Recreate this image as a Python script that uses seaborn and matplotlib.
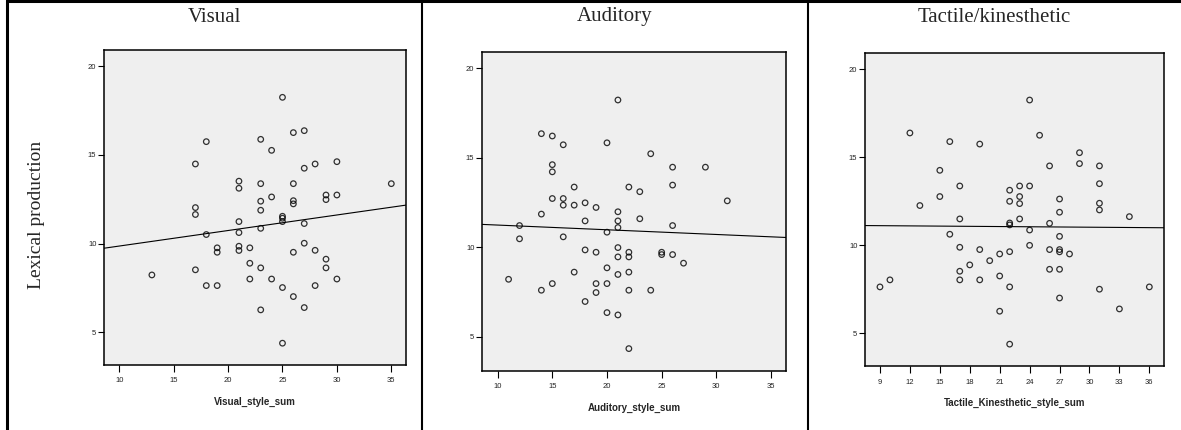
import matplotlib
matplotlib.use("Agg")
import matplotlib.pyplot as plt
from matplotlib.lines import Line2D
import seaborn as sns
import numpy as np
import pandas as pd

# ---------------- data ----------------
visual_x = [13,
            17, 17, 17, 17,
            18, 18, 18,
            19, 19, 19,
            21, 21, 21, 21, 21, 21,
            22, 22, 22,
            23, 23, 23, 23, 23, 23, 23,
            24, 24, 24,
            25, 25, 25, 25, 25, 25,
            26, 26, 26, 26, 26, 26,
            27, 27, 27, 27, 27,
            28, 28, 28,
            29, 29, 29, 29,
            30, 30, 30,
            35]
visual_y = [8.23,
            14.49, 12.03, 11.64, 8.52,
            15.75, 10.51, 7.63,
            9.76, 9.51, 7.63,
            13.52, 13.12, 11.24, 10.62, 9.85, 9.61,
            9.76, 8.89, 8.00,
            15.88, 13.38, 12.39, 11.88, 10.86, 8.63, 6.26,
            15.26, 12.63, 8.00,
            18.25, 11.54, 11.43, 11.24, 7.52, 4.38,
            16.26, 13.38, 12.42, 12.24, 9.51, 7.01,
            16.37, 14.25, 11.13, 10.02, 6.39,
            14.49, 9.62, 7.63,
            12.74, 12.48, 9.12, 8.63,
            14.62, 12.74, 8.00,
            13.38]

auditory_x = [11,
              12, 12,
              14, 14, 14,
              15, 15, 15, 15, 15,
              16, 16, 16, 16,
              17, 17, 17,
              18, 18, 18, 18,
              19, 19, 19, 19,
              20, 20, 20, 20, 20,
              21, 21, 21, 21, 21, 21, 21, 21,
              22, 22, 22, 22, 22, 22,
              23, 23,
              24, 24,
              25, 25,
              26, 26, 26, 26,
              27,
              29,
              31]
auditory_y = [8.22,
              11.22, 10.48,
              16.35, 11.86, 7.61,
              16.22, 14.62, 14.22, 12.73, 7.98,
              15.73, 12.73, 12.36, 10.59,
              13.37, 12.36, 8.62,
              12.49, 11.48, 9.86, 6.98,
              12.23, 9.73, 7.98, 7.48,
              15.84, 10.85, 8.86, 7.98, 6.36,
              18.23, 11.99, 11.48, 11.11, 9.99, 9.47, 8.49, 6.23,
              13.37, 9.73, 9.47, 8.62, 7.61, 4.35,
              13.11, 11.60,
              15.23, 7.61,
              9.73, 9.60,
              14.48, 13.48, 11.22, 9.60,
              9.12,
              14.48,
              12.60]

tactile_x = [9, 10, 12, 13,
             15, 15,
             16, 16,
             17, 17, 17, 17, 17,
             18,
             19, 19, 19,
             20,
             21, 21, 21,
             22, 22, 22, 22, 22, 22, 22,
             23, 23, 23, 23,
             24, 24, 24, 24,
             25,
             26, 26, 26, 26,
             27, 27, 27, 27, 27, 27, 27,
             28,
             29, 29,
             31, 31, 31, 31, 31,
             33, 34, 36]
tactile_y = [7.63, 8.03, 16.37, 12.25,
             14.25, 12.76,
             15.88, 10.62,
             13.36, 11.49, 9.88, 8.52, 8.03,
             8.88,
             15.74, 9.75, 8.03,
             9.12,
             9.50, 8.25, 6.25,
             13.12, 12.49, 11.26, 11.15, 9.63, 7.63, 4.38,
             13.36, 12.76, 12.36, 11.49,
             18.24, 13.36, 10.86, 9.99,
             16.24,
             14.50, 11.24, 9.75, 8.63,
             12.62, 11.87, 10.50, 9.75, 9.62, 8.63, 7.00,
             9.50,
             15.25, 14.63,
             14.50, 13.49, 12.38, 12.00, 7.50,
             6.38, 11.62, 7.63]

titles = ["Visual", "Auditory", "Tactile/kinesthetic"]
xlabels = ["Visual_style_sum", "Auditory_style_sum", "Tactile_Kinesthetic_style_sum"]
ylabel = "Lexical production"
yticks = [5, 10, 15, 20]
xticks_list = [[10, 15, 20, 25, 30, 35],
               [10, 15, 20, 25, 30, 35],
               [9, 12, 15, 18, 21, 24, 27, 30, 33, 36]]

# ---------------- figure ----------------
sns.set_style("white")
plt.rcParams["font.family"] = ["Liberation Sans", "DejaVu Sans"]

W, H = 1181, 430
fig = plt.figure(figsize=(W / 100, H / 100), dpi=100)

# axes boxes in pixels: left, right, top, bottom
boxes = [(104, 406, 50, 365), (482, 786, 52, 371), (865, 1164, 53, 366)]
xlims = [(8.6, 36.35), (8.57, 36.37), (7.5, 37.47)]
ylims = [(3.15, 20.92), (3.1, 20.91), (3.14, 20.91)]
datasets = [(visual_x, visual_y), (auditory_x, auditory_y), (tactile_x, tactile_y)]

for i, ((l, r, t, b), (xs, ys)) in enumerate(zip(boxes, datasets)):
    ax = fig.add_axes([l / W, 1 - b / H, (r - l) / W, (b - t) / H])
    ax.set_facecolor("#EFEFEF")
    df = pd.DataFrame({"x": xs, "y": ys})
    ax.set_xlim(*xlims[i])
    ax.set_ylim(*ylims[i])
    sns.regplot(data=df, x="x", y="y", ax=ax, ci=None, truncate=False,
                color="black", marker="o",
                scatter_kws={"s": 16, "facecolors": "none", "edgecolors": "black",
                             "linewidths": 0.9},
                line_kws={"linewidth": 0.8, "color": "black"})
    ax.set_xlim(*xlims[i])
    ax.set_ylim(*ylims[i])
    ax.set_xticks(xticks_list[i])
    ax.set_yticks(yticks)
    ax.tick_params(axis="both", direction="out", length=5, width=0.8,
                   labelsize=5.5, colors="black", labelcolor="#222222", pad=4)
    ax.tick_params(axis="y", length=4, pad=1.5)
    ax.tick_params(axis="x", bottom=True)
    ax.tick_params(axis="y", left=True)
    for s in ax.spines.values():
        s.set_color("black")
        s.set_linewidth(1.1)
    ax.set_xlabel(xlabels[i], fontsize=7, fontweight="bold", labelpad=9)
    ax.set_ylabel("")
    cx = {0: (7 + 422) / 2, 1: (422 + 808) / 2, 2: (808 + 1181) / 2}[i]
    fig.text(cx / W, 1 - 17 / H, titles[i], ha="center", va="center",
             fontsize=15, family=["Liberation Serif", "DejaVu Serif"])

fig.text(37 / W, 1 - 215 / H, ylabel, rotation=90, ha="center", va="center",
         fontsize=14, family=["Liberation Serif", "DejaVu Serif"])

# table borders
def vline(xp, lw):
    fig.add_artist(Line2D([xp / W, xp / W], [0, 1], color="black", linewidth=lw,
                          transform=fig.transFigure))

vline(7, 2.2)
vline(422, 1.5)
vline(808, 1.5)
fig.add_artist(Line2D([7 / W, 1], [1 - 1.2 / H, 1 - 1.2 / H], color="black",
                      linewidth=2.2, transform=fig.transFigure))

fig.savefig("out.png", dpi=100)
